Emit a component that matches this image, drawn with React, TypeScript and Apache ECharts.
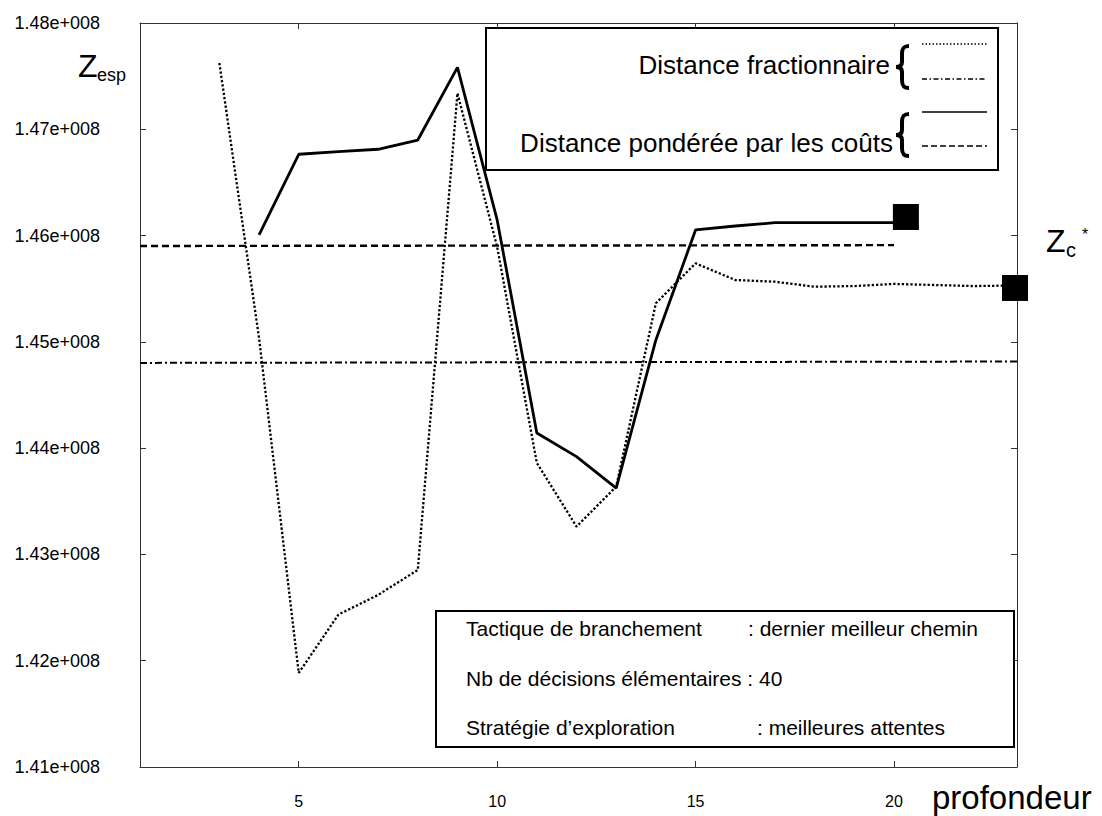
import React, { useEffect, useRef } from "react";
import * as echarts from "echarts";

// Depth values (profondeur) and expected cost Z_esp for each distance measure
const fracDepth = [3, 4, 5, 6, 7, 8, 9, 10, 11, 12, 13, 14, 15, 16, 17, 18, 19, 20, 21, 22, 23];
const fracValues = [
  1.47624e8, 1.45037e8, 1.41885e8, 1.42434e8, 1.42619e8, 1.42854e8, 1.47339e8,
  1.45893e8, 1.43861e8, 1.43262e8, 1.43638e8, 1.45363e8, 1.45739e8, 1.45582e8,
  1.45566e8, 1.45519e8, 1.45525e8, 1.45545e8, 1.45535e8, 1.45525e8, 1.4553e8,
];

const pondDepth = [4, 5, 6, 7, 8, 9, 10, 11, 12, 13, 14, 15, 16, 17, 18, 19, 20];
const pondValues = [
  1.46006e8, 1.46765e8, 1.46789e8, 1.46812e8, 1.46899e8, 1.47583e8, 1.46147e8,
  1.44143e8, 1.4392e8, 1.43623e8, 1.45018e8, 1.46053e8, 1.4609e8, 1.46121e8,
  1.46121e8, 1.46121e8, 1.46121e8,
];

// Horizontal reference levels
const fracLevelX = [1, 23.1];
const fracLevelY = [1.44802e8, 1.44815e8];
const pondLevelX = [1, 20];
const pondLevelY = [1.45902e8, 1.4591e8];

// Z_c* markers
const optimumX = [20.3, 23.05];
const optimumY = [1.46175e8, 1.45507e8];

const xTickValues = [5, 10, 15, 20];
const yMin = 1.41e8;
const yMax = 1.48e8;
const yStep = 1e6;

const FONT = "'Liberation Sans', Arial, Helvetica, sans-serif";

echarts.graphic.registerShape(
  "brace",
  echarts.graphic.extendPath(
    "M15,1 C9,1 8,4 8,9 L8,17 C8,20 6,22 2,22 C6,22 8,24 8,27 L8,35 C8,40 9,43 15,43",
    {}
  )
);

const pairs = (xs: number[], ys: number[]) => xs.map((x, i) => [x, ys[i]]);

const txt = (
  text: string,
  x: number,
  y: number,
  size: number,
  align: string = "left",
  vAlign: string = "top"
) => ({
  type: "text",
  x,
  y,
  silent: true,
  style: {
    text,
    fill: "#000",
    fontSize: size,
    fontFamily: FONT,
    align,
    textAlign: align,
    verticalAlign: vAlign,
    textVerticalAlign: vAlign,
  },
});

export default function App() {
  const ref = useRef<HTMLDivElement>(null);

  useEffect(() => {
    if (!ref.current) return;
    const chart = echarts.init(ref.current, null, { renderer: "svg" });

    const axisLine = { show: true, onZero: false, lineStyle: { color: "#333", width: 1 } };
    const tick = { show: true, inside: true, length: 6, lineStyle: { color: "#333", width: 1 } };

    const option: any = {
      animation: false,
      backgroundColor: "#fff",
      grid: { left: 140, top: 23, right: 85, bottom: 49 },
      xAxis: [
        {
          type: "value",
          min: 1,
          max: 23.1,
          position: "bottom",
          axisLine,
          axisTick: { ...tick, customValues: xTickValues },
          axisLabel: {
            customValues: xTickValues,
            fontSize: 16,
            fontFamily: FONT,
            color: "#000",
            margin: 26,
          },
          splitLine: { show: false },
        },
        {
          type: "value",
          min: 1,
          max: 23.1,
          position: "top",
          axisLine,
          axisTick: { ...tick, customValues: xTickValues },
          axisLabel: { show: false },
          splitLine: { show: false },
        },
      ],
      yAxis: [
        {
          type: "value",
          min: yMin,
          max: yMax,
          interval: yStep,
          position: "left",
          axisLine,
          axisTick: tick,
          axisLabel: {
            fontSize: 18,
            fontFamily: FONT,
            color: "#000",
            margin: 40,
            formatter: (v: number) => (v / 1e8).toFixed(2) + "e+008",
          },
          splitLine: { show: false },
        },
        {
          type: "value",
          min: yMin,
          max: yMax,
          interval: yStep,
          position: "right",
          axisLine,
          axisTick: tick,
          axisLabel: { show: false },
          splitLine: { show: false },
        },
      ],
      series: [
        {
          name: "Distance fractionnaire",
          type: "line",
          data: pairs(fracDepth, fracValues),
          symbol: "none",
          lineStyle: { color: "#000", width: 2.3, type: [2.3, 2], cap: "butt" },
        },
        {
          name: "Distance fractionnaire (niveau)",
          type: "line",
          data: pairs(fracLevelX, fracLevelY),
          symbol: "none",
          lineStyle: { color: "#000", width: 2, type: [7, 3, 2, 3] },
        },
        {
          name: "Distance pondérée par les coûts",
          type: "line",
          data: pairs(pondDepth, pondValues),
          symbol: "none",
          lineStyle: { color: "#000", width: 2.8, type: "solid" },
        },
        {
          name: "Distance pondérée par les coûts (niveau)",
          type: "line",
          data: pairs(pondLevelX, pondLevelY),
          symbol: "none",
          lineStyle: { color: "#000", width: 2.4, type: [7, 4] },
        },
        {
          name: "Zc*",
          type: "scatter",
          data: pairs(optimumX, optimumY),
          symbol: "rect",
          symbolSize: 26,
          itemStyle: { color: "#000", opacity: 1 },
          z: 5,
        },
      ],
      graphic: [
        // legend box
        {
          type: "rect",
          shape: { x: 486, y: 28, width: 512, height: 142 },
          style: { fill: "#fff", stroke: "#000", lineWidth: 2 },
          z: 10,
        },
        { ...txt("Distance fractionnaire", 890, 65, 26, "right", "middle"), z: 11 },
        { ...txt("Distance pondérée par les coûts", 893, 143, 26, "right", "middle"), z: 11 },
        {
          type: "brace",
          x: 894,
          y: 45,
          style: { stroke: "#000", lineWidth: 4, fill: null },
          z: 11,
        },
        {
          type: "brace",
          x: 894,
          y: 113,
          style: { stroke: "#000", lineWidth: 4, fill: null },
          z: 11,
        },
        {
          type: "line",
          shape: { x1: 922, y1: 44, x2: 987, y2: 44 },
          style: { stroke: "#000", lineWidth: 1.5, lineDash: [1.5, 2] },
          z: 11,
        },
        {
          type: "line",
          shape: { x1: 922, y1: 79, x2: 987, y2: 79 },
          style: { stroke: "#000", lineWidth: 1.3, lineDash: [5, 2.5, 1.5, 2.5] },
          z: 11,
        },
        {
          type: "line",
          shape: { x1: 922, y1: 112, x2: 987, y2: 112 },
          style: { stroke: "#000", lineWidth: 1.6 },
          z: 11,
        },
        {
          type: "line",
          shape: { x1: 922, y1: 146, x2: 987, y2: 146 },
          style: { stroke: "#000", lineWidth: 1.6, lineDash: [6, 3] },
          z: 11,
        },
        // parameter box
        {
          type: "rect",
          shape: { x: 436, y: 611, width: 578, height: 136 },
          style: { fill: "#fff", stroke: "#000", lineWidth: 2 },
          z: 10,
        },
        { ...txt("Tactique de branchement", 466, 628, 21, "left", "middle"), z: 11 },
        { ...txt(": dernier meilleur chemin", 748, 628, 21, "left", "middle"), z: 11 },
        { ...txt("Nb de décisions élémentaires : 40", 466, 678, 21, "left", "middle"), z: 11 },
        { ...txt("Stratégie d’exploration", 466, 727, 21, "left", "middle"), z: 11 },
        { ...txt(": meilleures attentes", 757, 727, 21, "left", "middle"), z: 11 },
        // axis titles
        txt("Z", 78, 50, 32),
        txt("esp", 97, 66, 18),
        txt("Z", 1046, 225, 32),
        txt("c", 1066, 240, 20),
        txt("*", 1082, 226, 16),
        txt("profondeur", 932, 781, 33),
      ],
    };

    chart.setOption(option);
    return () => chart.dispose();
  }, []);

  return (
    <div
      ref={ref}
      style={{ position: "fixed", left: 0, top: 0, width: 1102, height: 816, background: "#fff" }}
    />
  );
}
